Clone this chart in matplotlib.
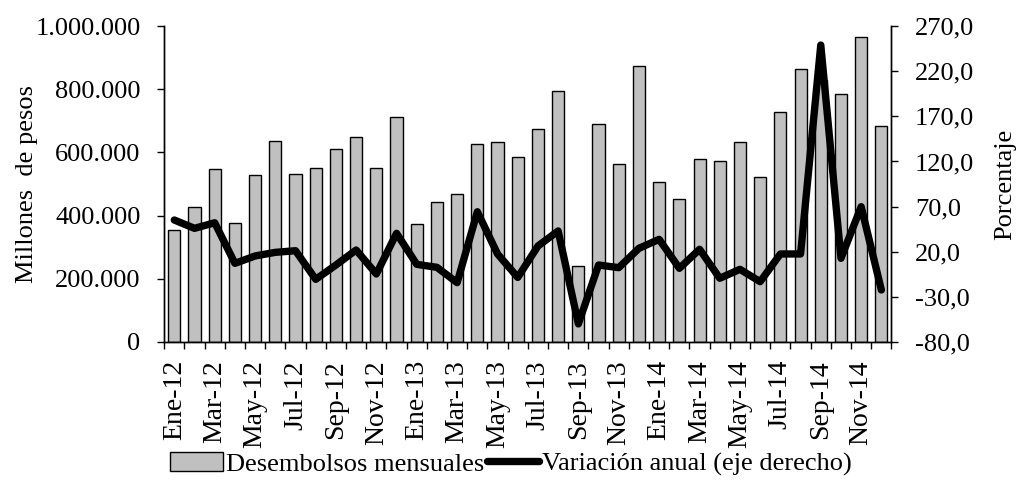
import matplotlib.pyplot as plt
from matplotlib.ticker import FuncFormatter

# --- data ---
meses = ['Ene', 'Feb', 'Mar', 'Abr', 'May', 'Jun', 'Jul', 'Ago', 'Sep', 'Oct', 'Nov', 'Dic']
anios = ['12', '13', '14']
periodos = [f'{m}-{a}' for a in anios for m in meses]

desembolsos = [353000, 426000, 547000, 378000, 527000, 637000, 532000, 552000, 611000, 649000, 552000, 711000,
               373000, 443000, 469000, 627000, 632000, 584000, 674000, 796000, 241000, 690000, 563000, 874000,
               505000, 452000, 579000, 574000, 632000, 521000, 727000, 864000, 830000, 785000, 964000, 684000]

variacion = [55.1, 45.9, 52.1, 7.1, 15.3, 19.3, 21.1, -10.6, 5.3, 21.9, -4.7, 40.4,
             6.0, 2.7, -14.3, 64.3, 17.5, -8.5, 26.3, 43.0, -60.0, 5.3, 2.3, 23.8,
             33.7, 1.6, 22.7, -9.4, 0.5, -13.2, 17.5, 17.5, 249.0, 12.7, 69.9, -22.4]

# --- plot ---
plt.rcParams['font.family'] = ['Liberation Serif', 'DejaVu Serif']
plt.rcParams['font.size'] = 19

fig = plt.figure(figsize=(10.2, 4.83), dpi=100)
ax = fig.add_axes([0.161, 0.292, 0.713, 0.654])
ax2 = ax.twinx()

x = list(range(len(periodos)))
ax.bar(x, desembolsos, width=0.6, color='#c0c0c0', edgecolor='black', linewidth=1.0,
       label='Desembolsos mensuales')
ax2.plot(x, variacion, color='black', linewidth=5.3, solid_joinstyle='round',
         solid_capstyle='round', label='Variación anual (eje derecho)')

ax.set_xlim(-0.5, len(periodos) - 0.5)
ax.set_ylim(0, 1000000)
ax.set_yticks(range(0, 1000001, 200000))
ax.yaxis.set_major_formatter(FuncFormatter(lambda v, p: f'{int(v):,}'.replace(',', '.')))
ax2.set_ylim(-80, 270)
ax2.set_yticks(range(-80, 271, 50))
ax2.yaxis.set_major_formatter(FuncFormatter(lambda v, p: f'{v:.1f}'.replace('.', ',')))

# tick marks at category boundaries, labels every other month
ax.set_xticks([i - 0.5 for i in range(len(periodos) + 1)])
ax.set_xticklabels([])
ax.set_xticks(x[::2], minor=True)
ax.set_xticklabels(periodos[::2], minor=True, rotation=90, fontsize=20)
ax.tick_params(axis='x', which='major', length=5, width=1, direction='out')
ax.tick_params(axis='x', which='minor', length=0, pad=13)
ax.tick_params(axis='y', length=5, width=1, direction='out', pad=12)
ax2.tick_params(axis='y', length=5, width=1, direction='out', pad=12)

for a in (ax, ax2):
    a.spines['top'].set_visible(False)
    for s in a.spines.values():
        s.set_linewidth(1.0)

ax.set_ylabel('Millones  de pesos', labelpad=-2)
ax2.set_ylabel('Porcentaje', labelpad=14)

h1, l1 = ax.get_legend_handles_labels()
h2, l2 = ax2.get_legend_handles_labels()
fig.legend(h1 + h2, l1 + l2, loc='lower center', bbox_to_anchor=(0.501, -0.035), ncol=2,
           frameon=False, handlelength=2.0, handletextpad=0.1, columnspacing=0.1)

fig.savefig('out.png', dpi=100)
